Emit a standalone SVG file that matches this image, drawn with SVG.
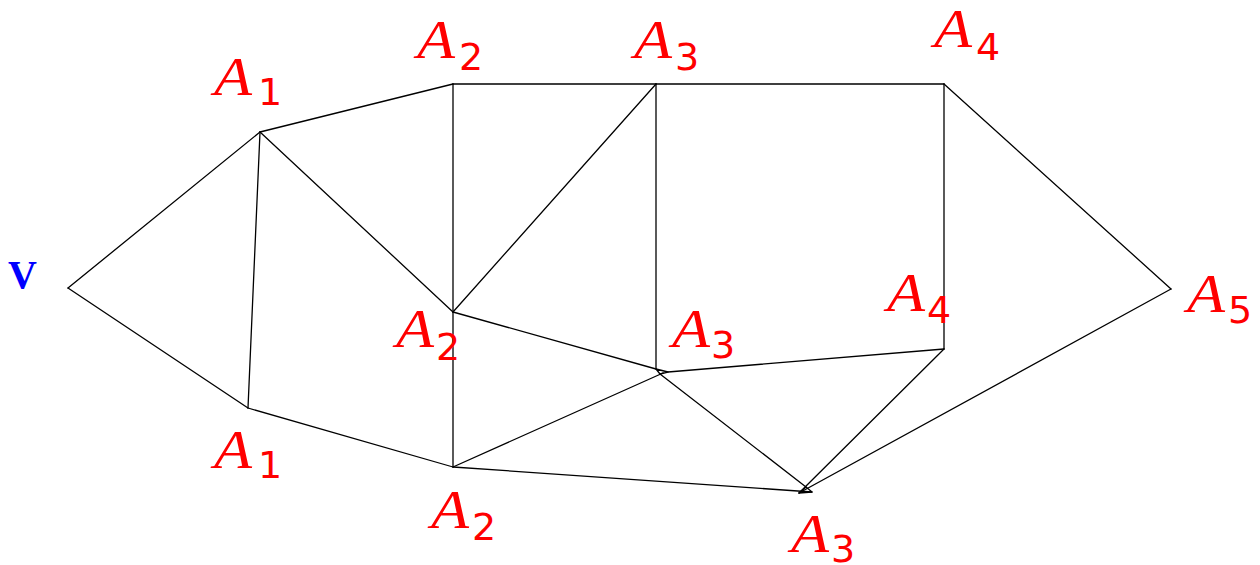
<svg xmlns="http://www.w3.org/2000/svg" width="1260" height="565" viewBox="0 0 1260 565">
<style>
.e{stroke:#000;stroke-width:1.3;fill:none;stroke-linecap:round;stroke-linejoin:round}
.l{fill:#ff0000;font-family:"Liberation Serif",serif;font-style:italic;font-size:55px}
.s{fill:#ff0000;font-family:"DejaVu Sans",sans-serif;font-size:38px}
.v{fill:#0000ff;font-family:"Liberation Serif",serif;font-weight:bold;font-size:40px}
</style>
<rect width="1260" height="565" fill="#fff"/>
<g id="connectors" class="e">
<line x1="68" y1="288" x2="260" y2="132"/>
<line x1="68" y1="288" x2="248" y2="408"/>
<line x1="260" y1="132" x2="248" y2="408"/>
<line x1="260" y1="132" x2="453" y2="84"/>
<line x1="260" y1="132" x2="453" y2="312"/>
<line x1="248" y1="408" x2="453" y2="467"/>
<line x1="453" y1="84" x2="656" y2="84"/>
<line x1="453" y1="84" x2="453" y2="312"/>
<line x1="453" y1="312" x2="656" y2="84"/>
<line x1="453" y1="312" x2="453" y2="467"/>
<line x1="453" y1="312" x2="656" y2="369"/>
<line x1="453" y1="467" x2="663" y2="373"/>
<line x1="453" y1="467" x2="812" y2="492"/>
<line x1="656" y1="84" x2="944" y2="84"/>
<line x1="656" y1="84" x2="656" y2="369"/>
<line x1="668" y1="372" x2="944" y2="349"/>
<line x1="660" y1="374" x2="806" y2="487"/>
<line x1="944" y1="84" x2="944" y2="349"/>
<line x1="944" y1="84" x2="1171" y2="289"/>
<line x1="944" y1="349" x2="799" y2="493"/>
<line x1="1171" y1="289" x2="799" y2="493"/>
<polygon points="656,369 668,372 660,374"/>
<polygon points="799,493 806,487 812,492"/>
</g>
<g id="v"><text class="v" x="8" y="288">V</text></g>
<g id="A1t"><text class="l" x="214" y="95" textLength="38" lengthAdjust="spacingAndGlyphs">A</text><text class="s" x="258" y="105">1</text></g>
<g id="A2t"><text class="l" x="417" y="58" textLength="38" lengthAdjust="spacingAndGlyphs">A</text><text class="s" x="459" y="70">2</text></g>
<g id="A3t"><text class="l" x="634" y="58" textLength="38" lengthAdjust="spacingAndGlyphs">A</text><text class="s" x="675" y="70">3</text></g>
<g id="A4t"><text class="l" x="934" y="47" textLength="38" lengthAdjust="spacingAndGlyphs">A</text><text class="s" x="976" y="60">4</text></g>
<g id="A1b"><text class="l" x="214" y="468" textLength="38" lengthAdjust="spacingAndGlyphs">A</text><text class="s" x="258" y="478">1</text></g>
<g id="A2m"><text class="l" x="396" y="347" textLength="38" lengthAdjust="spacingAndGlyphs">A</text><text class="s" x="436" y="360">2</text></g>
<g id="A3m"><text class="l" x="672" y="347" textLength="38" lengthAdjust="spacingAndGlyphs">A</text><text class="s" x="711" y="358">3</text></g>
<g id="A4m"><text class="l" x="887" y="311" textLength="38" lengthAdjust="spacingAndGlyphs">A</text><text class="s" x="927" y="323">4</text></g>
<g id="A5"><text class="l" x="1187" y="312" textLength="38" lengthAdjust="spacingAndGlyphs">A</text><text class="s" x="1228" y="323">5</text></g>
<g id="A2b"><text class="l" x="431" y="528" textLength="38" lengthAdjust="spacingAndGlyphs">A</text><text class="s" x="472" y="540">2</text></g>
<g id="A3b"><text class="l" x="791" y="552" textLength="38" lengthAdjust="spacingAndGlyphs">A</text><text class="s" x="831" y="562">3</text></g>
</svg>
